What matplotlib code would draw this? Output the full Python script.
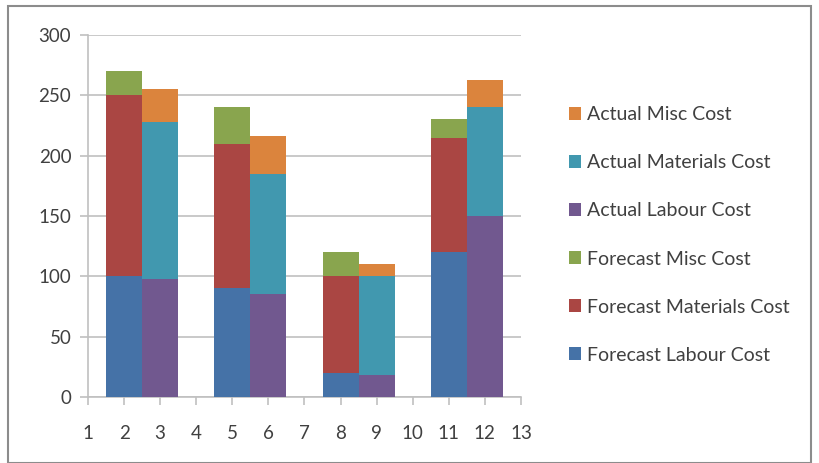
import numpy as np
import matplotlib
matplotlib.use("Agg")
from matplotlib import pyplot as plt
from matplotlib.patches import Rectangle

plt.rcParams['font.family'] = ['Lato', 'DejaVu Sans']

# positions on the numeric x axis
forecast_x = [2, 5, 8, 11]
actual_x = [3, 6, 9, 12]

forecast_labour = [100, 90, 20, 120]
forecast_materials = [150, 120, 80, 95]
forecast_misc = [20, 30, 20, 15]

actual_labour = [98, 85, 18, 150]
actual_materials = [130, 100, 82, 90]
actual_misc = [27, 31, 10, 23]

x_ticks = list(range(1, 14))
y_ticks = [0, 50, 100, 150, 200, 250, 300]

colors = {
    "Forecast Labour Cost": "#4572A7",
    "Forecast Materials Cost": "#AA4643",
    "Forecast Misc Cost": "#89A54E",
    "Actual Labour Cost": "#71588F",
    "Actual Materials Cost": "#4198AF",
    "Actual Misc Cost": "#DB843D",
}

fig = plt.figure(figsize=(8.2, 4.63), dpi=100)
ax = fig.add_axes([0.1073, 0.1425, 0.528, 0.782])

def stack(ax, xs, series):
    bottom = np.zeros(len(xs))
    for name, vals in series:
        ax.bar(xs, vals, width=1.0, bottom=bottom, color=colors[name],
               label=name, linewidth=0, zorder=3)
        bottom += np.array(vals)

stack(ax, forecast_x, [("Forecast Labour Cost", forecast_labour),
                       ("Forecast Materials Cost", forecast_materials),
                       ("Forecast Misc Cost", forecast_misc)])
stack(ax, actual_x, [("Actual Labour Cost", actual_labour),
                     ("Actual Materials Cost", actual_materials),
                     ("Actual Misc Cost", actual_misc)])

grid_c = "#C0C0C0"
ax.set_xlim(1, 13)
ax.set_ylim(0, 300)
ax.set_xticks(x_ticks)
ax.set_yticks(y_ticks)
ax.yaxis.grid(True, color=grid_c, linewidth=1.2, zorder=0)
for s in ["top", "right"]:
    ax.spines[s].set_visible(False)
for s in ["left", "bottom"]:
    ax.spines[s].set_color(grid_c)
    ax.spines[s].set_linewidth(1.2)
ax.tick_params(axis="both", colors=grid_c, width=1.2, length=6,
               labelcolor="#404040", labelsize=13.5)
ax.tick_params(axis="x", pad=14)
ax.tick_params(axis="y", pad=6)

handles, labels = ax.get_legend_handles_labels()
ax.legend(handles[::-1], labels[::-1], loc="center left",
          bbox_to_anchor=(1.07, 0.4475), frameon=False, fontsize=14,
          handlelength=0.65, handleheight=0.65, handletextpad=0.3,
          labelspacing=1.6, labelcolor="#404040")

fig.patches.append(Rectangle((7.7 / 820, 0.5 / 463), 803 / 820, 457 / 463,
                             transform=fig.transFigure, fill=False,
                             edgecolor="#8C8C8C", linewidth=1.5))

fig.savefig("out.png", dpi=100)
